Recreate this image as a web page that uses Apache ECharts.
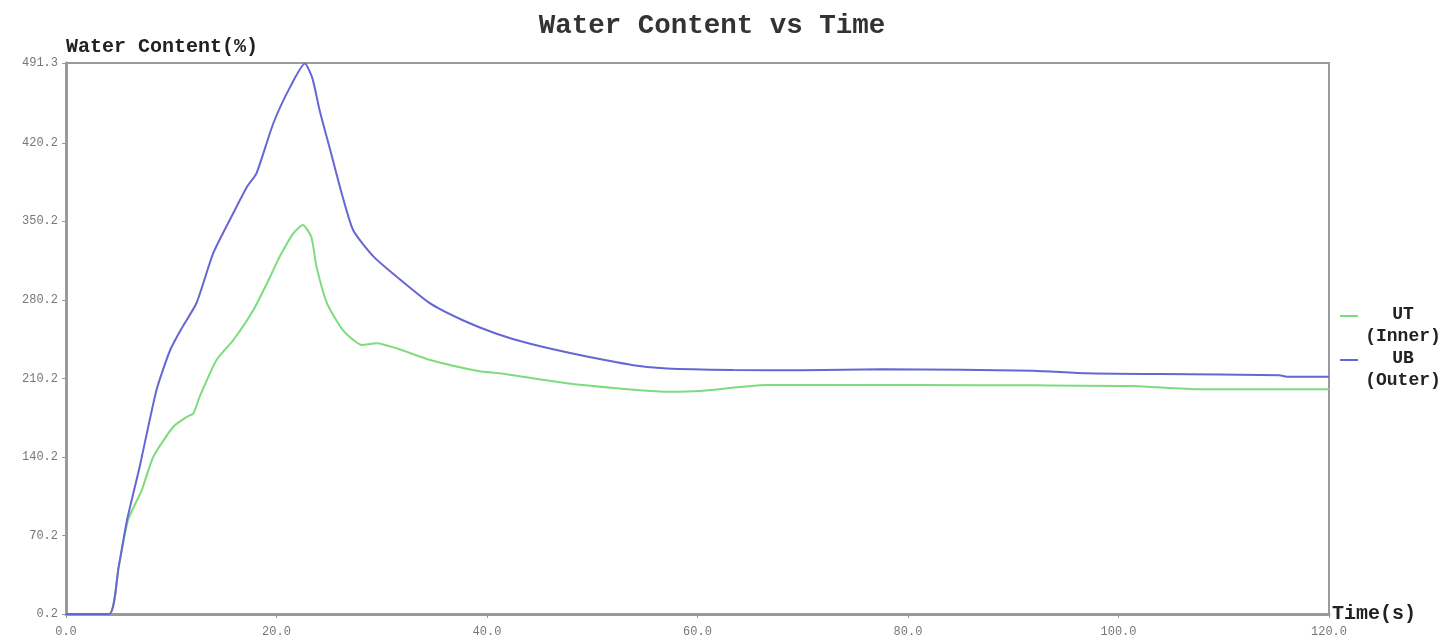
<!DOCTYPE html>
<html>
<head>
<meta charset="utf-8">
<title>Water Content vs Time</title>
<script src="https://cdn.jsdelivr.net/npm/echarts@6/dist/echarts.min.js"></script>
<style>
  html, body { margin: 0; padding: 0; background: #ffffff; }
  #chart { width: 1455px; height: 644px; }
</style>
</head>
<body>
<div id="chart"></div>
<script>
// Sampled water content readings (%), time in seconds
const utTime = [0, 4.1, 5.0, 5.9, 7.2, 8.3, 10.2, 11.5, 12.1, 12.7, 14.3, 15.9, 17.8, 19.4, 20.3, 21.6, 22.5, 23.3, 23.8, 24.8, 26.3, 28.1, 29.5, 31.4, 34.6, 39.3, 41.2, 47.6, 52.3, 57.1, 60.2, 66.6, 72.9, 81.1, 92.0, 101.4, 107.7, 120];
const utValue = [0.2, 0.2, 42, 84, 110.7, 140.4, 167.1, 176, 179, 193.9, 226.6, 244.4, 271.2, 300.8, 318.7, 339.5, 346.9, 336.5, 309.8, 277.1, 253.3, 240, 241.5, 237, 226.6, 216.5, 214.7, 205.8, 201.4, 198.3, 198.9, 204.3, 204.3, 204.3, 204, 203.4, 200.5, 200.5];

const ubTime = [0, 4.1, 5.0, 5.8, 7.0, 8.6, 9.9, 11.0, 12.4, 14.0, 15.9, 17.2, 18.1, 19.7, 21.3, 22.7, 23.4, 24.1, 25.1, 26.2, 27.3, 29.2, 31.4, 34.6, 37.7, 40.9, 44.1, 48.8, 53.9, 57.1, 63.4, 70.0, 77.6, 85.0, 91.9, 97.0, 103.9, 115.3, 116.0, 120];
const ubValue = [0.2, 0.2, 42, 84, 131.5, 199.9, 235.5, 255, 277.4, 322, 357.6, 381, 393, 437.6, 470, 490.8, 478, 449, 414, 375, 342, 319, 301, 277, 262, 250, 241, 231, 222, 219, 217.7, 217.5, 218.3, 217.8, 217, 214.7, 214, 213, 211.7, 211.7];

const seriesNames = ['UT (Inner)', 'UB (Outer)'];
const xTicks = [0, 20, 40, 60, 80, 100, 120];
const yTicks = [0.2, 70.2, 140.2, 210.2, 280.2, 350.2, 420.2, 491.3];

const zip = (xs, ys) => xs.map((x, i) => [x, ys[i]]);

const mono = '"Liberation Mono", "DejaVu Sans Mono", monospace';
const axisGray = '#9a9a9a';
// legend swatch: a short line at the top of a taller box so it sits beside the first text line
const legendIcon = 'path://M0,0H20V2H0Z M0,22H0.01V22.01H0Z';

const chart = echarts.init(document.getElementById('chart'), null, { renderer: 'canvas' });

chart.setOption({
  backgroundColor: '#ffffff',
  animation: false,
  title: {
    text: 'Water Content vs Time',
    left: 707,
    top: 7,
    textAlign: 'center',
    textStyle: { fontFamily: mono, fontWeight: 'bold', fontSize: 27.5, color: '#333' }
  },
  legend: {
    orient: 'vertical',
    left: 1335,
    top: 298,
    itemGap: 0,
    itemWidth: 18,
    itemHeight: 22,
    itemStyle: { borderWidth: 0 },
    icon: legendIcon,
    data: seriesNames,
    formatter: name => {
      const parts = name.split(' ');
      return '{c|' + parts[0] + '}\n{c|' + parts[1] + '}';
    },
    textStyle: {
      fontFamily: mono, fontWeight: 'bold', fontSize: 18, lineHeight: 22, color: '#222',
      rich: {
        c: { fontFamily: mono, fontWeight: 'bold', fontSize: 18, lineHeight: 22, color: '#222', width: 80, align: 'center' }
      }
    }
  },
  grid: {
    left: 66, right: 126, top: 63, bottom: 30,
    show: true, borderColor: axisGray, borderWidth: 2, backgroundColor: '#ffffff'
  },
  xAxis: {
    type: 'value',
    min: 0,
    max: 120,
    name: 'Time(s)',
    nameLocation: 'end',
    nameGap: 3,
    nameTextStyle: { fontFamily: mono, fontWeight: 'bold', fontSize: 20, color: '#222' },
    axisLine: { show: true, lineStyle: { color: axisGray, width: 3 } },
    axisTick: { show: true, length: 4, customValues: xTicks, lineStyle: { color: axisGray } },
    axisLabel: {
      customValues: xTicks,
      margin: 12,
      formatter: v => v.toFixed(1),
      fontFamily: mono, fontSize: 12, color: '#777'
    },
    splitLine: { show: false }
  },
  yAxis: {
    type: 'value',
    min: 0.2,
    max: 491.3,
    name: 'Water Content(%)',
    nameLocation: 'end',
    nameGap: 6,
    nameTextStyle: { fontFamily: mono, fontWeight: 'bold', fontSize: 20, color: '#222', align: 'left' },
    axisLine: { show: true, lineStyle: { color: axisGray, width: 3 } },
    axisTick: { show: true, length: 4, customValues: yTicks, lineStyle: { color: axisGray } },
    axisLabel: {
      customValues: yTicks,
      margin: 8,
      formatter: v => v.toFixed(1),
      fontFamily: mono, fontSize: 12, color: '#777'
    },
    splitLine: { show: false }
  },
  series: [
    {
      name: seriesNames[0],
      type: 'line',
      data: zip(utTime, utValue),
      showSymbol: false,
      smooth: 0.2,
      color: '#7ddc7d',
      lineStyle: { width: 2, color: '#7ddc7d' },
      z: 2
    },
    {
      name: seriesNames[1],
      type: 'line',
      data: zip(ubTime, ubValue),
      showSymbol: false,
      smooth: 0.2,
      color: '#6666d4',
      lineStyle: { width: 2, color: '#6666d4' },
      z: 3
    }
  ]
});
</script>
</body>
</html>
